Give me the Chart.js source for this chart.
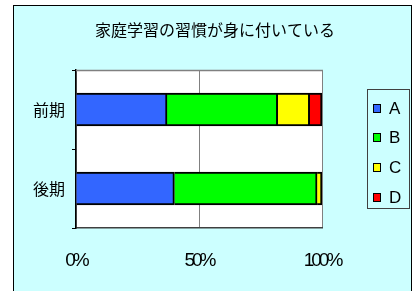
<!DOCTYPE html>
<html><head><meta charset="utf-8">
<script src="https://cdn.jsdelivr.net/npm/chart.js@4/dist/chart.umd.min.js"></script>
<style>html,body{margin:0;padding:0;background:#fff;}#wrap{width:415px;height:291px;position:relative;}</style>
</head><body><div id="wrap"><canvas id="c"></canvas></div>
<script>
const TITLE = '家庭学習の習慣が身に付いている';
const categories = ['前期', '後期'];
const seriesNames = ['A', 'B', 'C', 'D'];
const valuesA = [37, 40];
const valuesB = [45, 58];
const valuesC = [13, 2];
const valuesD = [5, 0];
const xTicks = [0, 50, 100];
const colors = ['#3366FF', '#00FF00', '#FFFF00', '#FF0000'];

const allValues = [valuesA, valuesB, valuesC, valuesD];
const datasets = seriesNames.map((n, i) => ({
  label: n, data: allValues[i], backgroundColor: colors[i],
  borderColor: '#000', borderWidth: 2, borderSkipped: 'start', barThickness: 33
}));

const deco = {
  id: 'deco',
  beforeDraw(chart) {
    const ctx = chart.ctx, a = chart.chartArea;
    const xs = chart.scales.x;
    if (xs && !xs._patched) {
      const orig = xs.drawLabels;
      xs.drawLabels = function (ca) {
        const c = this.ctx; const prev = c.letterSpacing;
        c.letterSpacing = '-3px';
        orig.call(this, ca);
        c.letterSpacing = prev || '0px';
      };
      xs._patched = true;
    }
    ctx.save();
    ctx.fillStyle = '#fff'; ctx.fillRect(0, 0, chart.width, chart.height);
    ctx.fillStyle = '#CCFFFF'; ctx.fillRect(13, 5, 399, 300);
    ctx.strokeStyle = '#000'; ctx.lineWidth = 1; ctx.strokeRect(13.5, 5.5, 398, 300);
    ctx.fillStyle = '#fff'; ctx.fillRect(a.left, a.top, a.right - a.left, a.bottom - a.top);
    ctx.restore();
  },
  beforeDatasetsDraw(chart) {
    const ctx = chart.ctx, a = chart.chartArea;
    ctx.save();
    ctx.strokeStyle = '#808080'; ctx.lineWidth = 1.5;
    ctx.beginPath(); ctx.moveTo(a.left, a.top + 0.5); ctx.lineTo(a.right + 1, a.top + 0.5); ctx.stroke();
    ctx.restore();
  },
  afterDraw(chart) {
    const ctx = chart.ctx;
    ctx.save();
    ctx.letterSpacing = '0px';
    ctx.fillStyle = '#000';
    ctx.font = '16px "Noto Sans CJK JP"';
    ctx.textAlign = 'center'; ctx.textBaseline = 'middle';
    ctx.fillText(TITLE, 215, 30);
    // legend
    ctx.strokeStyle = '#404040'; ctx.lineWidth = 1;
    ctx.strokeRect(367.5, 89.5, 42, 119);
    ctx.font = '17px "Liberation Sans", Arial, sans-serif';
    ctx.textAlign = 'left';
    chart.data.datasets.forEach((ds, i) => {
      const y = 108 + i * 29.7;
      ctx.fillStyle = ds.backgroundColor;
      ctx.fillRect(373, Math.round(y - 4.5), 8, 9);
      ctx.strokeStyle = '#000'; ctx.lineWidth = 1;
      ctx.strokeRect(373.5, Math.round(y - 4.5) + 0.5, 7, 8);
      ctx.fillStyle = '#000';
      ctx.fillText(ds.label, 389, y + 1);
    });
    ctx.restore();
  }
};

new Chart(document.getElementById('c'), {
  type: 'bar',
  data: { labels: categories, datasets },
  options: {
    indexAxis: 'y', responsive: true, maintainAspectRatio: false, animation: false,
    layout: { padding: { top: 70, right: 93, left: 0, bottom: 0 } },
    plugins: { legend: { display: false }, title: { display: false }, tooltip: { enabled: false } },
    scales: {
      x: {
        stacked: true, min: 0, max: 100,
        afterBuildTicks(s) { s.ticks = xTicks.map(v => ({ value: v })); },
        afterFit(s) { s.height = 63; },
        grid: { color: '#808080', lineWidth: 1, drawTicks: false },
        border: { display: true, color: '#404040', width: 1.5 },
        ticks: { color: '#000', padding: 21, maxRotation: 0,
          font: { family: '"Liberation Sans", Arial, sans-serif', size: 19 },
          callback: v => v + '%' }
      },
      y: {
        stacked: true,
        afterFit(s) { s.width = 76; },
        grid: { drawOnChartArea: false, drawTicks: true, tickLength: 4, color: '#000', offset: true },
        border: { display: true, color: '#000', width: 1.5 },
        ticks: { color: '#000', padding: 7, font: { family: '"Noto Sans CJK JP"', size: 16 } }
      }
    }
  },
  plugins: [deco]
});
</script></body></html>
